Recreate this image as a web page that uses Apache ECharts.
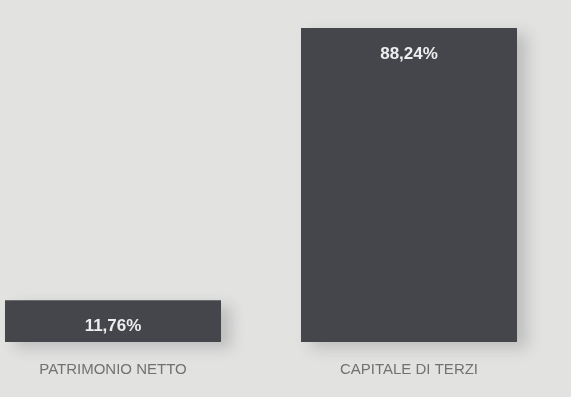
<!DOCTYPE html>
<html>
<head>
<meta charset="utf-8">
<script src="https://cdn.jsdelivr.net/npm/echarts@6/dist/echarts.min.js"></script>
<style>
  html, body { margin: 0; padding: 0; background: #e2e3e1; }
  #chart { width: 571px; height: 397px; }
</style>
</head>
<body>
<div id="chart"></div>
<script>
// Composizione delle fonti di finanziamento
const categories = ['PATRIMONIO NETTO', 'CAPITALE DI TERZI'];
const shares = [11.76, 88.24];

const fmt = v => v.toFixed(2).replace('.', ',') + '%';

const chart = echarts.init(document.getElementById('chart'));
chart.setOption({
  backgroundColor: '#e2e3e1',
  animation: false,
  grid: { left: 113, right: 162, top: 28, bottom: 55 },
  xAxis: {
    type: 'category',
    data: categories,
    boundaryGap: false,
    axisLine: { show: false },
    axisTick: { show: false },
    axisLabel: {
      margin: 20,
      color: '#707171',
      fontSize: 15,
      fontFamily: '"Liberation Sans", "DejaVu Sans", sans-serif'
    }
  },
  yAxis: {
    type: 'value',
    min: 0,
    max: 88.24,
    show: false,
    splitLine: { show: false }
  },
  series: [{
    type: 'bar',
    data: shares,
    barWidth: 216,
    itemStyle: {
      color: '#45464b',
      shadowColor: 'rgba(60,60,65,0.22)',
      shadowBlur: 14,
      shadowOffsetX: 10,
      shadowOffsetY: 6
    },
    label: {
      show: true,
      position: 'insideTop',
      distance: 18,
      formatter: p => fmt(p.value),
      color: '#eeeeee',
      fontWeight: 'bold',
      fontSize: 17,
      fontFamily: '"Liberation Sans", "DejaVu Sans", sans-serif'
    }
  }]
});
</script>
</body>
</html>
